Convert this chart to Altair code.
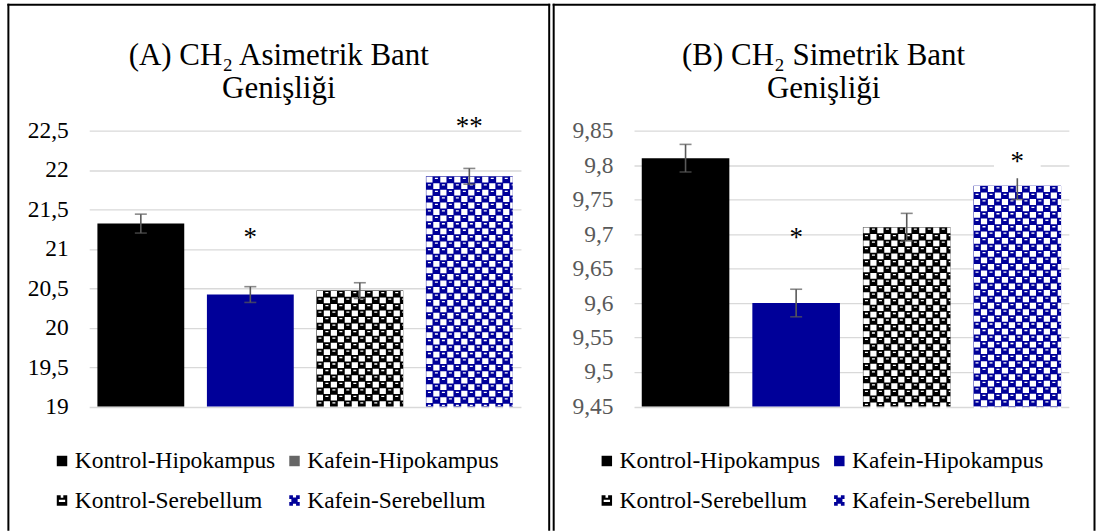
import math

import altair as alt
import pandas as pd

FONT = "Liberation Serif"

# Shared categories and styling of the four groups
groups = ["Kontrol-Hipokampus", "Kafein-Hipokampus", "Kontrol-Serebellum", "Kafein-Serebellum"]
bar_colors = ["#000000", "#000099", "#000000", "#000099"]
patterned = [False, False, True, True]

# Panel A: CH2 asymmetric band width
a_title = ["(A) CH\u2082 Asimetrik Bant", "Genişliği"]
a_values = [21.32, 20.42, 20.47, 21.92]
a_errors = [0.12, 0.10, 0.10, 0.10]
a_stars = ["", "*", "", "**"]
a_star_y = [None, 21.19, None, 22.59]
a_star_box = [False, False, False, False]
a_legend_colors = ["#000000", "#666666", "#000000", "#000099"]
a_ticks = [19, 19.5, 20, 20.5, 21, 21.5, 22, 22.5]
a_domain = [19, 22.5]

# Panel B: CH2 symmetric band width
b_title = ["(B) CH\u2082 Simetrik Bant", "Genişliği"]
b_values = [9.81, 9.60, 9.71, 9.77]
b_errors = [0.02, 0.02, 0.02, 0.02]
b_stars = ["", "*", "", "*"]
b_star_y = [None, 9.70, None, 9.81]
b_star_box = [False, False, False, True]
b_legend_colors = ["#000000", "#000099", "#000000", "#000099"]
b_ticks = [9.45, 9.5, 9.55, 9.6, 9.65, 9.7, 9.75, 9.8, 9.85]
b_domain = [9.45, 9.85]

HEIGHT = 276.5
CELL_W = 7.0    # checker cell width (px)
CELL_H = 6.5    # checker cell height (px)
HOLE_W = 6.2    # white opening inside a light cell (px)
HOLE_H = 5.8

# legend symbols: plain squares and small patterned squares
legend_shapes = [
    "square",
    "square",
    "M-1,-1H-0.25V-0.55H0.25V-1H1V1H-1Z M-0.6,-0.15V0.3H0.6V-0.15Z",
    "M-1,-1H-0.3V-0.6H0.3V-1H1V-0.3H0.6V0.3H1V1H0.3V0.6H-0.3V1H-1V0.3H-0.6V-0.3H-1Z",
]
box_shape = "M-1.17,-1H1.17V1H-1.17Z"


def panel(title, values, errors, stars, star_y, star_box, legend_colors,
          ticks, domain, width, pad_inner, pad_outer, label_color, frame_x):
    df = pd.DataFrame({
        "group": groups, "value": values, "err": errors, "fill": bar_colors,
        "star": stars, "star_y": star_y, "box": star_box,
    })
    df["lo"] = df["value"] - df["err"]
    df["hi"] = df["value"] + df["err"]
    df["mid"] = (df["value"] + domain[0]) / 2

    # checker rows laid over the patterned bars, tiled from the bar top down
    px_per_unit = HEIGHT / (domain[1] - domain[0])
    step = CELL_H / px_per_unit
    nudge = 1.2 / px_per_unit
    rows = []
    for g, v, p in zip(groups, values, patterned):
        if not p:
            continue
        n = math.ceil((v - domain[0]) / step)
        for k in range(n):
            yc = v - (k + 0.5) * step
            rows.append({"group": g, "y": yc, "ys": yc + nudge, "odd": k % 2})
    pat = pd.DataFrame(rows)

    xscale = alt.Scale(domain=groups, paddingInner=pad_inner, paddingOuter=pad_outer)
    yscale = alt.Scale(domain=domain, zero=False, nice=False)
    yaxis = alt.Axis(
        values=ticks, labelExpr="replace(toString(datum.value), '.', ',')",
        grid=True, gridColor="#d9d9d9", gridWidth=1.3, domain=False, ticks=False,
        labelFont=FONT, labelFontSize=23.5, labelColor=label_color, labelPadding=21,
        title=None,
    )
    x = alt.X("group:N", scale=xscale, axis=None, sort=groups)

    def y(field):
        return alt.Y(field, scale=yscale, axis=yaxis)

    base = alt.Chart(df)
    one = alt.Chart(alt.Data(values=[{"k": 1}]))

    leg = alt.Legend(
        orient="none", legendX=-39, legendY=319, columns=2, direction="horizontal",
        title=None, labelFont=FONT, labelFontSize=23.5, labelColor="black", labelLimit=400,
        symbolSize=110, symbolStrokeWidth=0, labelOffset=1,
        columnPadding=7, rowPadding=15, padding=0,
    )
    legend_src = base.mark_point(filled=True, opacity=1, size=30).encode(
        x=x, y=y("mid:Q"),
        color=alt.Color("group:N", scale=alt.Scale(domain=groups, range=legend_colors), legend=leg),
        shape=alt.Shape("group:N", scale=alt.Scale(domain=groups, range=legend_shapes), legend=leg),
    )
    bars = base.mark_bar().encode(
        x=x, y=y("value:Q"), y2=alt.datum(domain[0]), fill=alt.Fill("fill:N", scale=None))

    def strip(odd, field, width, dash, offset):
        return alt.Chart(pat).transform_filter(f"datum.odd == {odd}").mark_rule(
            color="white", strokeWidth=width, strokeDash=dash, strokeDashOffset=offset,
        ).encode(
            x=alt.X("group:N", scale=xscale, axis=None, sort=groups, bandPosition=0),
            x2=alt.X2("group:N", bandPosition=1),
            y=y(f"{field}:Q"),
        )

    period = 2 * CELL_W
    inset = (CELL_W - HOLE_W) / 2
    pattern_layers = [
        # white openings of the checker
        strip(0, "y", HOLE_H, [HOLE_W, period - HOLE_W], period - inset),
        strip(1, "y", HOLE_H, [HOLE_W, period - HOLE_W], period - (CELL_W + inset)),
        # small white dash inside each dark cell
        strip(0, "ys", 1.3, [3, period - 3], period - (CELL_W + 2)),
        strip(1, "ys", 1.3, [3, period - 3], period - 2),
    ]

    err_line = base.mark_rule(color="#595959", strokeWidth=1.6).encode(
        x=x, y=y("lo:Q"), y2="hi:Q")
    cap_lo = base.mark_tick(color="#595959", size=12, thickness=1.6).encode(x=x, y=y("lo:Q"))
    cap_hi = base.mark_tick(color="#595959", size=12, thickness=1.6).encode(x=x, y=y("hi:Q"))

    star_bg = base.transform_filter("datum.box").mark_point(
        shape=box_shape, size=1600, filled=True, fill="white", opacity=1, strokeWidth=0,
    ).encode(x=x, y=y("star_y:Q"))
    star_txt = base.transform_filter("datum.star != ''").mark_text(
        font=FONT, fontSize=27, color="black", baseline="alphabetic", dy=12,
    ).encode(x=x, y=y("star_y:Q"), text="star:N")

    title_txt = one.mark_text(
        text=title, font=FONT, fontSize=31, lineHeight=33, align="center",
        baseline="alphabetic", color="black",
    ).encode(x=alt.value(190), y=alt.value(-66))

    fx0, fx1 = frame_x
    frame_style = dict(color="black", strokeWidth=2, strokeCap="square")
    f_left = one.mark_rule(**frame_style).encode(
        x=alt.value(fx0), y=alt.value(-126.2), y2=alt.value(400))
    f_right = one.mark_rule(**frame_style).encode(
        x=alt.value(fx1), y=alt.value(-126.2), y2=alt.value(400))
    f_top = one.mark_rule(**frame_style).encode(
        x=alt.value(fx0), x2=alt.value(fx1), y=alt.value(-126.2))

    return alt.layer(
        legend_src, bars, *pattern_layers, err_line, cap_lo, cap_hi,
        star_bg, star_txt, title_txt, f_left, f_right, f_top,
    ).properties(width=width, height=HEIGHT)


panel_a = panel(a_title, a_values, a_errors, a_stars, a_star_y, a_star_box, a_legend_colors,
                a_ticks, a_domain, 432.7, 0.207, 0.075, "black", (-81, 461))
panel_b = panel(b_title, b_values, b_errors, b_stars, b_star_y, b_star_box, b_legend_colors,
                b_ticks, b_domain, 435.8, 0.208, 0.07, "#595959", (-80.5, 461.5))

chart = alt.hconcat(panel_a, panel_b, spacing=1).resolve_scale(
    x="independent", y="independent", color="independent", shape="independent",
).properties(
    padding={"left": 6.4, "top": 2.3, "right": 0, "bottom": 0},
).configure(font=FONT).configure_view(strokeWidth=0)

chart.save("out.html", embed_options={"renderer": "svg", "actions": False})
